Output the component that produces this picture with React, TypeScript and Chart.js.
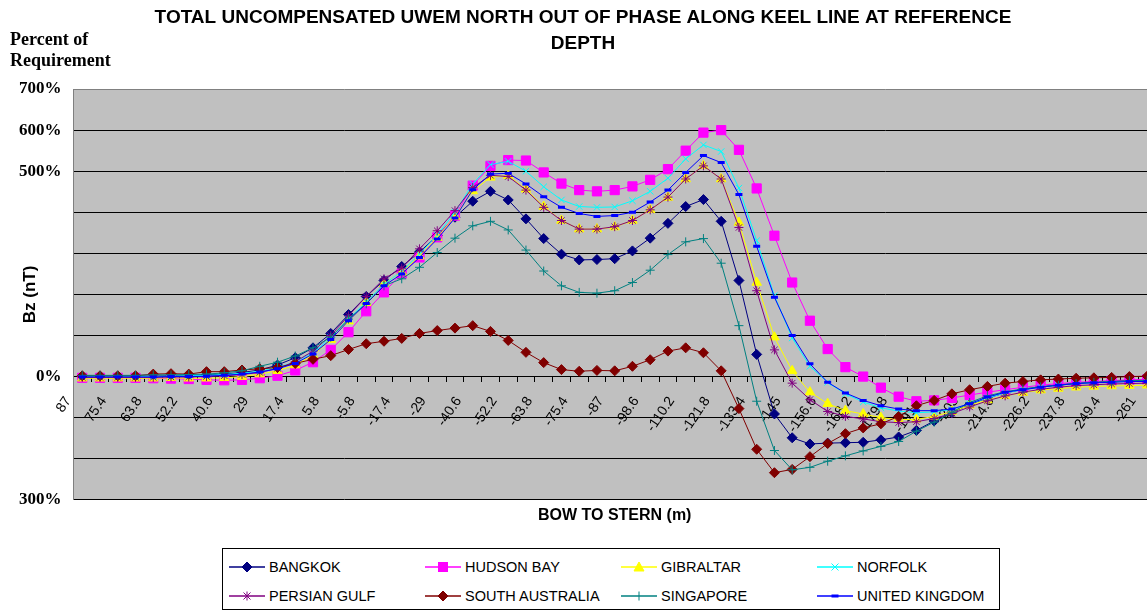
import React, { useEffect, useRef } from 'react';
import { Chart, registerables } from 'chart.js';

Chart.register(...registerables);

const categories = [
  '87', '81.2', '75.4', '69.6', '63.8', '58', '52.2', '46.4', '40.6', '34.8',
  '29', '23.2', '17.4', '11.6', '5.8', '0', '-5.8', '-11.6', '-17.4', '-23.2',
  '-29', '-34.8', '-40.6', '-46.4', '-52.2', '-58', '-63.8', '-69.6', '-75.4', '-81.2',
  '-87', '-92.8', '-98.6', '-104.4', '-110.2', '-116', '-121.8', '-127.6', '-133.4', '-139.2',
  '-145', '-150.8', '-156.6', '-162.4', '-168.2', '-174', '-179.8', '-185.6', '-191.4', '-197.2',
  '-203', '-208.8', '-214.6', '-220.4', '-226.2', '-232', '-237.8', '-243.6', '-249.4', '-255.2',
  '-261',
];

const yTickLabels: Record<string, string> = {
  '700': '700%',
  '600': '600%',
  '500': '500%',
  '0': '0%',
  '-300': '300%',
};

const bangkok = [
  0, 0, 0, 0, 1, 2, 2,
  4, 6, 10, 16, 28, 46, 70, 105, 151, 195,
  234, 268, 303, 343, 388, 427, 451, 430, 384, 336,
  298, 284, 285, 287, 306, 337, 373, 414, 431, 378,
  234, 54, -91, -149, -164, -162, -161, -160, -154, -147,
  -131, -108, -88, -68, -52, -40, -31, -25, -20, -16,
  -13, -11, -9, -8,
];
const hudsonBay = [
  -3, -3, -3, -3, -4, -5, -6,
  -8, -9, -8, -4, 2, 15, 35, 65, 108, 159,
  205, 251, 290, 339, 392, 465, 513, 527, 526, 497,
  470, 454, 451, 454, 463, 479, 505, 550, 594, 600,
  552, 458, 343, 229, 136, 67, 23, 0, -27, -49,
  -60, -58, -52, -45, -38, -32, -26, -21, -17, -14,
  -12, -10, -8, -7,
];
const gibraltar = [
  -4, -4, -4, -4, -4, -3, -4,
  -4, -3, 0, 6, 14, 28, 52, 90, 135, 180,
  226, 254, 293, 338, 390, 452, 485, 489, 456, 414,
  380, 359, 359, 364, 380, 406, 436, 481, 513, 481,
  375, 229, 96, 14, -38, -66, -83, -91, -100, -105,
  -104, -97, -85, -70, -57, -47, -39, -33, -29, -26,
  -24, -23, -22, -21,
];
const norfolk = [
  0, 0, 0, 0, 0, 1, 2,
  3, 5, 8, 13, 22, 36, 58, 95, 140, 182,
  225, 256, 298, 345, 400, 469, 516, 524, 500, 462,
  430, 414, 412, 413, 428, 451, 483, 530, 564, 548,
  459, 331, 197, 94, 25, -14, -42, -62, -76, -84,
  -88, -86, -80, -66, -52, -40, -32, -26, -21, -17,
  -15, -13, -11, -10,
];
const persianGulf = [
  -2, -2, -2, -2, -2, -1, -1,
  0, 2, 5, 10, 20, 36, 62, 100, 148, 195,
  238, 264, 311, 355, 404, 460, 490, 487, 454, 412,
  380, 359, 359, 365, 380, 406, 437, 481, 513, 481,
  363, 209, 65, -16, -56, -85, -97, -103, -110, -112,
  -110, -102, -90, -74, -59, -47, -38, -31, -26, -22,
  -20, -18, -17, -16,
];
const southAustralia = [
  2, 2, 2, 2, 6, 7, 6,
  12, 12, 16, 19, 22, 32, 42, 51, 66, 80,
  86, 93, 105, 112, 118, 124, 110, 88, 59, 34,
  17, 13, 15, 14, 25, 41, 62, 70, 58, 14,
  -78, -177, -234, -226, -195, -163, -139, -125, -115, -97,
  -71, -58, -42, -32, -24, -16, -12, -8, -6, -4,
  -3, -2, 0, 1,
];
const singapore = [
  3, 3, 3, 3, 4, 4, 5,
  6, 9, 14, 25, 35, 50, 70, 96, 140, 177,
  221, 238, 266, 302, 337, 367, 378, 357, 308, 257,
  221, 205, 203, 209, 229, 259, 297, 328, 336, 276,
  124, -60, -180, -227, -221, -206, -193, -181, -170, -158,
  -133, -111, -87, -63, -47, -37, -30, -25, -21, -17,
  -14, -12, -10, -9,
];
const unitedKingdom = [
  -1, -1, -1, -1, -1, 0, 0,
  1, 3, 6, 11, 19, 32, 55, 90, 136, 178,
  221, 250, 290, 335, 386, 455, 493, 495, 469, 438,
  412, 397, 390, 392, 400, 425, 454, 497, 538, 521,
  443, 317, 193, 100, 31, -14, -40, -58, -71, -79,
  -83, -83, -79, -66, -50, -38, -32, -26, -21, -17,
  -15, -14, -12, -12,
];

const seriesNames = [
  'BANGKOK', 'HUDSON BAY', 'GIBRALTAR', 'NORFOLK',
  'PERSIAN GULF', 'SOUTH AUSTRALIA', 'SINGAPORE', 'UNITED KINGDOM',
];
const seriesValues = [
  bangkok, hudsonBay, gibraltar, norfolk,
  persianGulf, southAustralia, singapore, unitedKingdom,
];
const seriesColors = [
  '#000080', '#FF00FF', '#FFFF00', '#00FFFF',
  '#800080', '#800000', '#008080', '#0000FF',
];
const seriesMarkers = [
  'rectRot', 'rect', 'triangle', 'crossRot',
  'star', 'rectRot', 'cross', 'line',
];
const markerRadius = [5, 6.5, 5.5, 4.5, 4.5, 5, 4.5, 3.5];
const markerBorder = [1, 1, 1, 1, 1, 1, 1, 3];

const plotBackground = {
  id: 'plotBackground',
  beforeDraw(chart: any) {
    const { ctx, chartArea } = chart;
    if (!chartArea) return;
    ctx.save();
    ctx.fillStyle = '#C0C0C0';
    ctx.fillRect(chartArea.left, chartArea.top, chartArea.right - chartArea.left, chartArea.bottom - chartArea.top);
    ctx.restore();
  },
};

const SANS = '"Liberation Sans", Arial, sans-serif';
const SERIF = '"Liberation Serif", "Times New Roman", serif';

function LegendMarker({ kind, color }: { kind: string; color: string }) {
  const cx = 18;
  const cy = 6;
  let marker: React.ReactNode = null;
  if (kind === 'rectRot') {
    marker = <polygon points={`${cx},${cy - 5} ${cx + 5},${cy} ${cx},${cy + 5} ${cx - 5},${cy}`} fill={color} stroke={color} />;
  } else if (kind === 'rect') {
    marker = <rect x={cx - 4.5} y={cy - 4.5} width={9} height={9} fill={color} stroke={color} />;
  } else if (kind === 'triangle') {
    marker = <polygon points={`${cx},${cy - 5} ${cx + 5},${cy + 4} ${cx - 5},${cy + 4}`} fill={color} stroke={color} />;
  } else if (kind === 'crossRot') {
    marker = (
      <g stroke={color} strokeWidth={1}>
        <line x1={cx - 3.5} y1={cy - 3.5} x2={cx + 3.5} y2={cy + 3.5} />
        <line x1={cx - 3.5} y1={cy + 3.5} x2={cx + 3.5} y2={cy - 3.5} />
      </g>
    );
  } else if (kind === 'star') {
    marker = (
      <g stroke={color} strokeWidth={1}>
        <line x1={cx - 3.5} y1={cy - 3.5} x2={cx + 3.5} y2={cy + 3.5} />
        <line x1={cx - 3.5} y1={cy + 3.5} x2={cx + 3.5} y2={cy - 3.5} />
        <line x1={cx} y1={cy - 4.5} x2={cx} y2={cy + 4.5} />
      </g>
    );
  } else if (kind === 'cross') {
    marker = (
      <g stroke={color} strokeWidth={1}>
        <line x1={cx} y1={cy - 4.5} x2={cx} y2={cy + 4.5} />
      </g>
    );
  } else if (kind === 'line') {
    marker = <rect x={cx - 3.5} y={cy - 1.5} width={7} height={3} fill={color} />;
  }
  return (
    <svg width={36} height={12} style={{ display: 'block' }}>
      <line x1={0} y1={cy} x2={36} y2={cy} stroke={color} strokeWidth={1.5} />
      {marker}
    </svg>
  );
}

export default function App() {
  const canvasRef = useRef<HTMLCanvasElement | null>(null);

  useEffect(() => {
    const canvas = canvasRef.current;
    if (!canvas) return;
    const datasets = seriesNames.map((name, i) => ({
      label: name,
      data: seriesValues[i],
      borderColor: seriesColors[i],
      backgroundColor: seriesColors[i],
      borderWidth: 1,
      pointStyle: seriesMarkers[i] as any,
      pointRadius: markerRadius[i],
      pointBorderWidth: markerBorder[i],
      pointBackgroundColor: seriesColors[i],
      pointBorderColor: seriesColors[i],
      tension: 0,
      order: seriesNames.length - i,
    }));

    const chart = new Chart(canvas, {
      type: 'line',
      data: { labels: categories, datasets },
      plugins: [plotBackground],
      options: {
        responsive: false,
        animation: false,
        events: [],
        layout: { padding: { left: 10, right: 10, top: 5, bottom: 4 } },
        plugins: {
          legend: { display: false },
          tooltip: { enabled: false },
          title: {
            display: true,
            text: ['TOTAL UNCOMPENSATED UWEM NORTH OUT OF PHASE ALONG KEEL LINE AT REFERENCE', 'DEPTH'],
            color: '#000',
            font: { family: SANS, size: 19, weight: 'bold', lineHeight: 1.37 },
            padding: { top: 0, bottom: 32 },
          },
        },
        scales: {
          x: {
            type: 'category',
            position: { y: 0 } as any,
            offset: true,
            afterFit: (s: any) => {
              s.paddingLeft = 0;
              s.paddingRight = 0;
            },
            grid: {
              display: true,
              drawOnChartArea: false,
              drawTicks: true,
              tickLength: 5,
              color: '#000',
              offset: true,
            },
            border: { display: true, color: '#000', width: 1 },
            ticks: {
              autoSkip: false,
              minRotation: 56,
              maxRotation: 56,
              padding: 12,
              labelOffset: -14,
              color: '#000',
              font: { family: SANS, size: 14 },
              callback: (_v: any, i: number) => (i % 2 === 0 ? categories[i] : ''),
            },
          },
          x2: {
            type: 'category',
            position: 'bottom',
            grid: { display: false, drawTicks: false },
            border: { display: false },
            ticks: { display: false },
            title: {
              display: true,
              text: 'BOW TO STERN (m)',
              color: '#000',
              font: { family: SANS, size: 16, weight: 'bold', lineHeight: 1.2 },
              padding: { top: 6, bottom: 6 },
            },
          },
          y: {
            type: 'linear',
            min: -300,
            max: 700,
            afterFit: (s: any) => {
              s.width = 63.4;
            },
            ticks: {
              stepSize: 100,
              padding: 12,
              color: '#000',
              font: { family: SERIF, size: 17, weight: 'bold' },
              callback: (v: any) => yTickLabels[String(v)] ?? '',
            },
            grid: {
              drawTicks: false,
              lineWidth: 1,
              color: (ctx: any) => (ctx.tick && ctx.tick.value === 700 ? '#808080' : '#000'),
            },
            border: { display: true, color: '#808080', width: 1 },
            title: {
              display: true,
              text: 'Bz (nT)',
              color: '#000',
              font: { family: SANS, size: 17, weight: 'bold', lineHeight: 1.2 },
              padding: { top: 10, bottom: 0 },
            },
          },
        },
      },
    });
    return () => chart.destroy();
  }, []);

  const colX = [6, 202, 398, 594];
  const rowY = [12, 41];

  return (
    <div style={{ position: 'fixed', left: 0, top: 0, width: 1147, height: 613, overflow: 'hidden', background: '#fff' }}>
      <canvas ref={canvasRef} width={1166} height={535} style={{ position: 'absolute', left: 0, top: 0, width: 1166, height: 535 }} />
      <div
        style={{
          position: 'absolute',
          left: 10,
          top: 29,
          fontFamily: SERIF,
          fontWeight: 'bold',
          fontSize: 18,
          lineHeight: '21px',
          color: '#000',
        }}
      >
        Percent of
        <br />
        Requirement
      </div>
      <div
        style={{
          position: 'absolute',
          left: 222,
          top: 548,
          width: 776,
          height: 60,
          border: '1px solid #000',
          background: '#fff',
        }}
      >
        {seriesNames.map((name, i) => {
          const col = i % 4;
          const row = Math.floor(i / 4);
          return (
            <div
              key={name}
              style={{
                position: 'absolute',
                left: colX[col],
                top: rowY[row],
                display: 'flex',
                alignItems: 'center',
                height: 12,
              }}
            >
              <LegendMarker kind={seriesMarkers[i]} color={seriesColors[i]} />
              <span
                style={{
                  marginLeft: 4,
                  fontFamily: SANS,
                  fontSize: 14.5,
                  color: '#000',
                  whiteSpace: 'nowrap',
                  lineHeight: '12px',
                }}
              >
                {name}
              </span>
            </div>
          );
        })}
      </div>
    </div>
  );
}
